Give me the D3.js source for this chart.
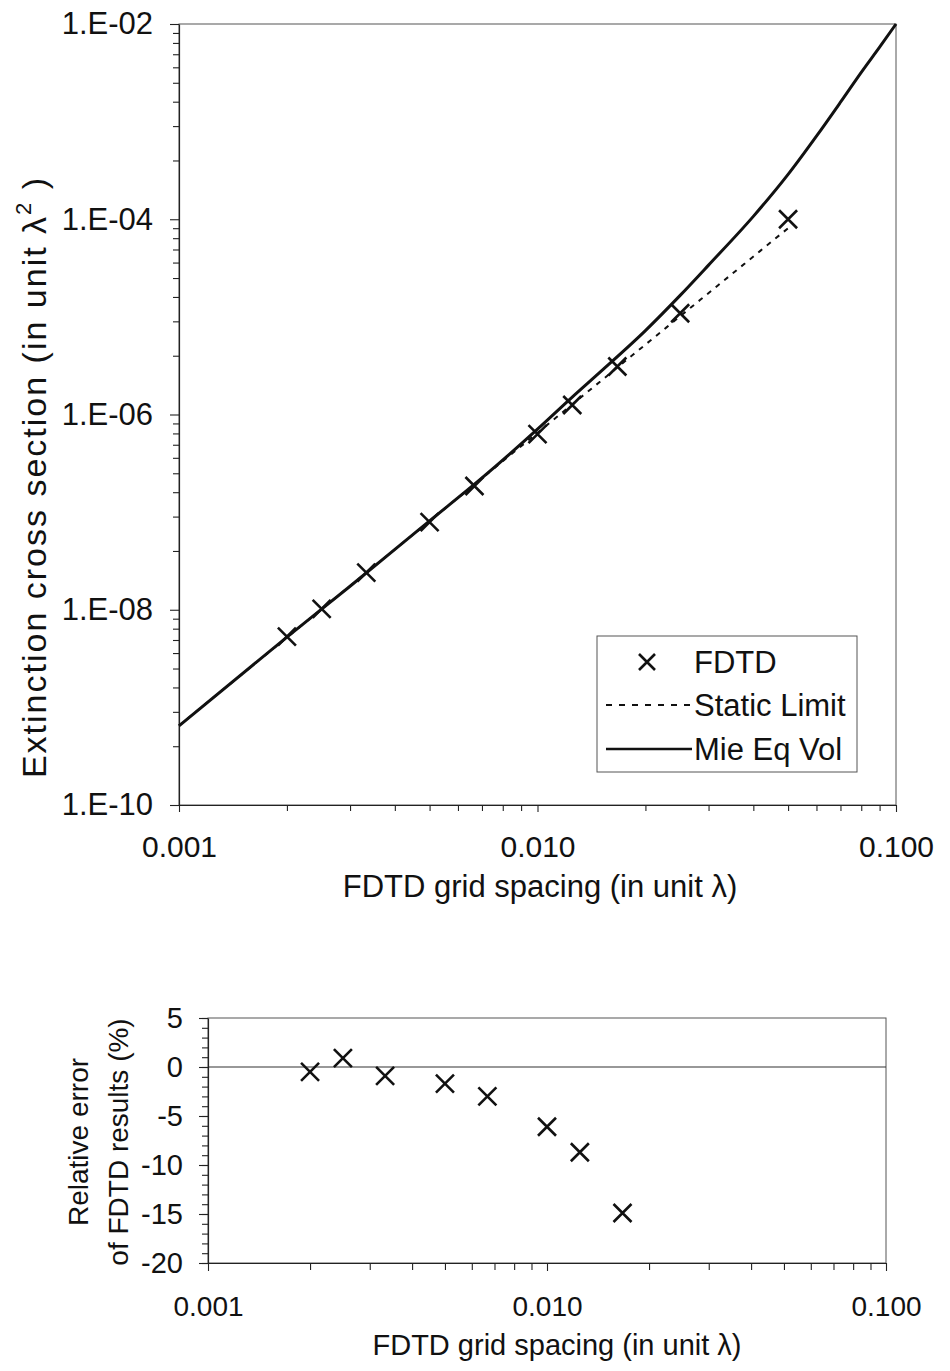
<!DOCTYPE html>
<html>
<head>
<meta charset="utf-8">
<script src="https://cdn.jsdelivr.net/npm/d3@7"></script>
<style>
  body { margin: 0; background: #fff; }
  svg { display: block; font-family: "Liberation Sans", Arial, Helvetica, sans-serif; }
  .tick text { fill: #111; }
</style>
</head>
<body>
<svg id="chart" width="950" height="1371"></svg>
<script>
// ---- data ----
// FDTD results (grid spacing in λ, extinction cross section in λ^2)
const fdtdSpacing = [0.002, 0.0025, 0.00333, 0.005, 0.00667, 0.01, 0.0125, 0.0167, 0.025, 0.05];
const fdtdSigma = [5.3e-9, 1.02e-8, 2.4e-8, 7.9e-8, 1.85e-7, 6.3e-7, 1.25e-6, 3.1e-6, 1.09e-5, 1.0e-4];

// static limit (dashed)
const staticSpacing = [0.001, 0.002, 0.005, 0.01, 0.02, 0.05];
const staticSigma = [6.5e-10, 5.2e-9, 8.1e-8, 6.5e-7, 5.2e-6, 8.1e-5];

// Mie, equal volume sphere (solid)
const mieSpacing = [0.001, 0.002, 0.003, 0.005, 0.007, 0.01, 0.0125, 0.015, 0.02, 0.025,
  0.03, 0.04, 0.05, 0.06, 0.07, 0.08, 0.09, 0.1];
const mieSigma = [6.46e-10, 5.25e-9, 1.74e-8, 8.13e-8, 2.24e-7, 7.08e-7, 1.51e-6, 2.75e-6, 7.24e-6, 1.66e-5,
  3.39e-5, 1.07e-4, 2.88e-4, 7.1e-4, 1.58e-3, 3.2e-3, 5.8e-3, 1.0e-2];

// relative error of FDTD results (%)
const errSpacing = [0.002, 0.0025, 0.00333, 0.005, 0.00667, 0.01, 0.0125, 0.0167];
const errPercent = [-0.5, 0.9, -0.9, -1.7, -3.0, -6.1, -8.7, -14.9];

// tick labels
const xMajorTicks = [0.001, 0.01, 0.1];
const sigmaMajorTicks = [1e-10, 1e-8, 1e-6, 1e-4, 1e-2];
const errMajorTicks = [-20, -15, -10, -5, 0, 5];

const svg = d3.select("#chart");

// log-axis minor ticks 2..9 within each decade
function decadeMinor(lo, hi) {
  const out = [];
  for (let m = lo; m < hi * 0.999; m *= 10)
    for (let k = 2; k <= 9; k++) out.push(m * k);
  return out;
}

function drawCross(g, x, y, r) {
  g.append("path")
    .attr("d", `M${x - r},${y - r}L${x + r},${y + r}M${x - r},${y + r}L${x + r},${y - r}`)
    .attr("stroke", "#111")
    .attr("stroke-width", 2.6)
    .attr("fill", "none");
}

function styleAxis(size) {
  return g => {
    g.select(".domain").attr("stroke", "#222").attr("stroke-width", 1.2);
    g.selectAll(".tick line").attr("stroke", "#222").attr("stroke-width", 1.1);
    g.selectAll(".tick text").attr("font-size", size).attr("font-family", "Liberation Sans, Arial, sans-serif");
  };
}

/*
 * Top chart: extinction cross section
 */
const T = { left: 179, right: 896, top: 24, bottom: 805 };

const xTop = d3.scaleLog().domain([0.001, 0.1]).range([T.left, T.right]);
const yTop = d3.scaleLog().domain([1e-10, 1e-2]).range([T.bottom, T.top]);

// frame
svg.append("rect")
  .attr("x", T.left).attr("y", T.top)
  .attr("width", T.right - T.left).attr("height", T.bottom - T.top)
  .attr("fill", "none").attr("stroke", "#555").attr("stroke-width", 1);

// y minor ticks: Excel style with a major unit of 100 (k^2 positions)
const yMinorTop = [];
sigmaMajorTicks.slice(0, -1).forEach(m => {
  for (let k = 2; k <= 9; k++) yMinorTop.push(m * k * k);
});

svg.append("g")
  .attr("transform", `translate(${T.left},0)`)
  .call(d3.axisLeft(yTop).tickValues(yMinorTop).tickSize(6).tickSizeOuter(0).tickFormat(""))
  .call(g => g.select(".domain").remove())
  .call(styleAxis(30));

svg.append("g")
  .attr("transform", `translate(${T.left},0)`)
  .call(d3.axisLeft(yTop).tickValues(sigmaMajorTicks).tickSize(9).tickSizeOuter(0).tickPadding(17)
    .tickFormat(d => "1.E-" + String(-Math.round(Math.log10(d))).padStart(2, "0")))
  .call(styleAxis(31));

svg.append("g")
  .attr("transform", `translate(0,${T.bottom})`)
  .call(d3.axisBottom(xTop).tickValues(decadeMinor(0.001, 0.1)).tickSize(6).tickSizeOuter(0).tickFormat(""))
  .call(g => g.select(".domain").remove())
  .call(styleAxis(30));

svg.append("g")
  .attr("transform", `translate(0,${T.bottom})`)
  .call(d3.axisBottom(xTop).tickValues(xMajorTicks).tickSize(7).tickSizeOuter(0).tickPadding(24)
    .tickFormat(d3.format(".3f")))
  .call(styleAxis(30));

// curves
const curveLine = d3.line()
  .x(d => xTop(d[0])).y(d => yTop(d[1]))
  .curve(d3.curveMonotoneX);

svg.append("path")
  .datum(d3.zip(staticSpacing, staticSigma))
  .attr("d", curveLine)
  .attr("fill", "none").attr("stroke", "#111")
  .attr("stroke-width", 2).attr("stroke-dasharray", "5,6");

svg.append("path")
  .datum(d3.zip(mieSpacing, mieSigma))
  .attr("d", curveLine)
  .attr("fill", "none").attr("stroke", "#111")
  .attr("stroke-width", 3);

const topMarks = svg.append("g");
fdtdSpacing.forEach((s, i) => drawCross(topMarks, xTop(s), yTop(fdtdSigma[i]), 9));

// legend
const legend = svg.append("g");
legend.append("rect")
  .attr("x", 597).attr("y", 636).attr("width", 260).attr("height", 136)
  .attr("fill", "#fff").attr("stroke", "#555").attr("stroke-width", 1);
drawCross(legend, 647, 662, 8);
legend.append("line")
  .attr("x1", 606).attr("x2", 690).attr("y1", 705).attr("y2", 705)
  .attr("stroke", "#111").attr("stroke-width", 2).attr("stroke-dasharray", "6,7");
legend.append("line")
  .attr("x1", 606).attr("x2", 692).attr("y1", 749).attr("y2", 749)
  .attr("stroke", "#111").attr("stroke-width", 2.4);
[["FDTD", 673], ["Static Limit", 716], ["Mie Eq Vol", 760]].forEach(([t, y]) => {
  legend.append("text")
    .attr("x", 694).attr("y", y)
    .attr("font-size", 31).attr("fill", "#111")
    .text(t);
});

// axis titles
svg.append("text")
  .attr("x", 540).attr("y", 897)
  .attr("text-anchor", "middle").attr("font-size", 31).attr("fill", "#111")
  .text("FDTD grid spacing (in unit λ)");

const yTitle = svg.append("text")
  .attr("transform", "translate(46,477) rotate(-90)")
  .attr("text-anchor", "middle").attr("font-size", 34)
  .attr("letter-spacing", 2).attr("fill", "#111");
yTitle.append("tspan").text("Extinction cross section (in unit  λ");
yTitle.append("tspan").attr("font-size", 22).attr("dy", -15).text("2");
yTitle.append("tspan").attr("dy", 15).text(" )");

/*
 * Bottom chart: relative error
 */
const B = { left: 208, right: 886, top: 1018, bottom: 1263 };

const xBot = d3.scaleLog().domain([0.001, 0.1]).range([B.left, B.right]);
const yBot = d3.scaleLinear().domain([-20, 5]).range([B.bottom, B.top]);

svg.append("rect")
  .attr("x", B.left).attr("y", B.top)
  .attr("width", B.right - B.left).attr("height", B.bottom - B.top)
  .attr("fill", "none").attr("stroke", "#555").attr("stroke-width", 1);

svg.append("line")
  .attr("x1", B.left).attr("x2", B.right)
  .attr("y1", yBot(0)).attr("y2", yBot(0))
  .attr("stroke", "#333").attr("stroke-width", 1.2);

svg.append("g")
  .attr("transform", `translate(${B.left},0)`)
  .call(d3.axisLeft(yBot).tickValues(d3.range(-20, 6, 1)).tickSize(6).tickSizeOuter(0).tickFormat(""))
  .call(g => g.select(".domain").remove())
  .call(styleAxis(29));

svg.append("g")
  .attr("transform", `translate(${B.left},0)`)
  .call(d3.axisLeft(yBot).tickValues(errMajorTicks).tickSize(9).tickSizeOuter(0).tickPadding(16)
    .tickFormat(d => d))
  .call(styleAxis(29));

svg.append("g")
  .attr("transform", `translate(0,${B.bottom})`)
  .call(d3.axisBottom(xBot).tickValues(decadeMinor(0.001, 0.1)).tickSize(7).tickSizeOuter(0).tickFormat(""))
  .call(g => g.select(".domain").remove())
  .call(styleAxis(29));

svg.append("g")
  .attr("transform", `translate(0,${B.bottom})`)
  .call(d3.axisBottom(xBot).tickValues(xMajorTicks).tickSize(8).tickSizeOuter(0).tickPadding(25)
    .tickFormat(d3.format(".3f")))
  .call(styleAxis(28));

const botMarks = svg.append("g");
errSpacing.forEach((s, i) => drawCross(botMarks, xBot(s), yBot(errPercent[i]), 9));

svg.append("text")
  .attr("x", 557).attr("y", 1355)
  .attr("text-anchor", "middle").attr("font-size", 29).attr("fill", "#111")
  .text("FDTD grid spacing (in unit λ)");

const eTitle = svg.append("text")
  .attr("transform", "translate(0,1142) rotate(-90)")
  .attr("text-anchor", "middle").attr("font-size", 28).attr("fill", "#111");
eTitle.append("tspan").attr("x", 0).attr("y", 88).text("Relative error");
eTitle.append("tspan").attr("x", 0).attr("y", 128).text("of FDTD results (%)");
</script>
</body>
</html>
